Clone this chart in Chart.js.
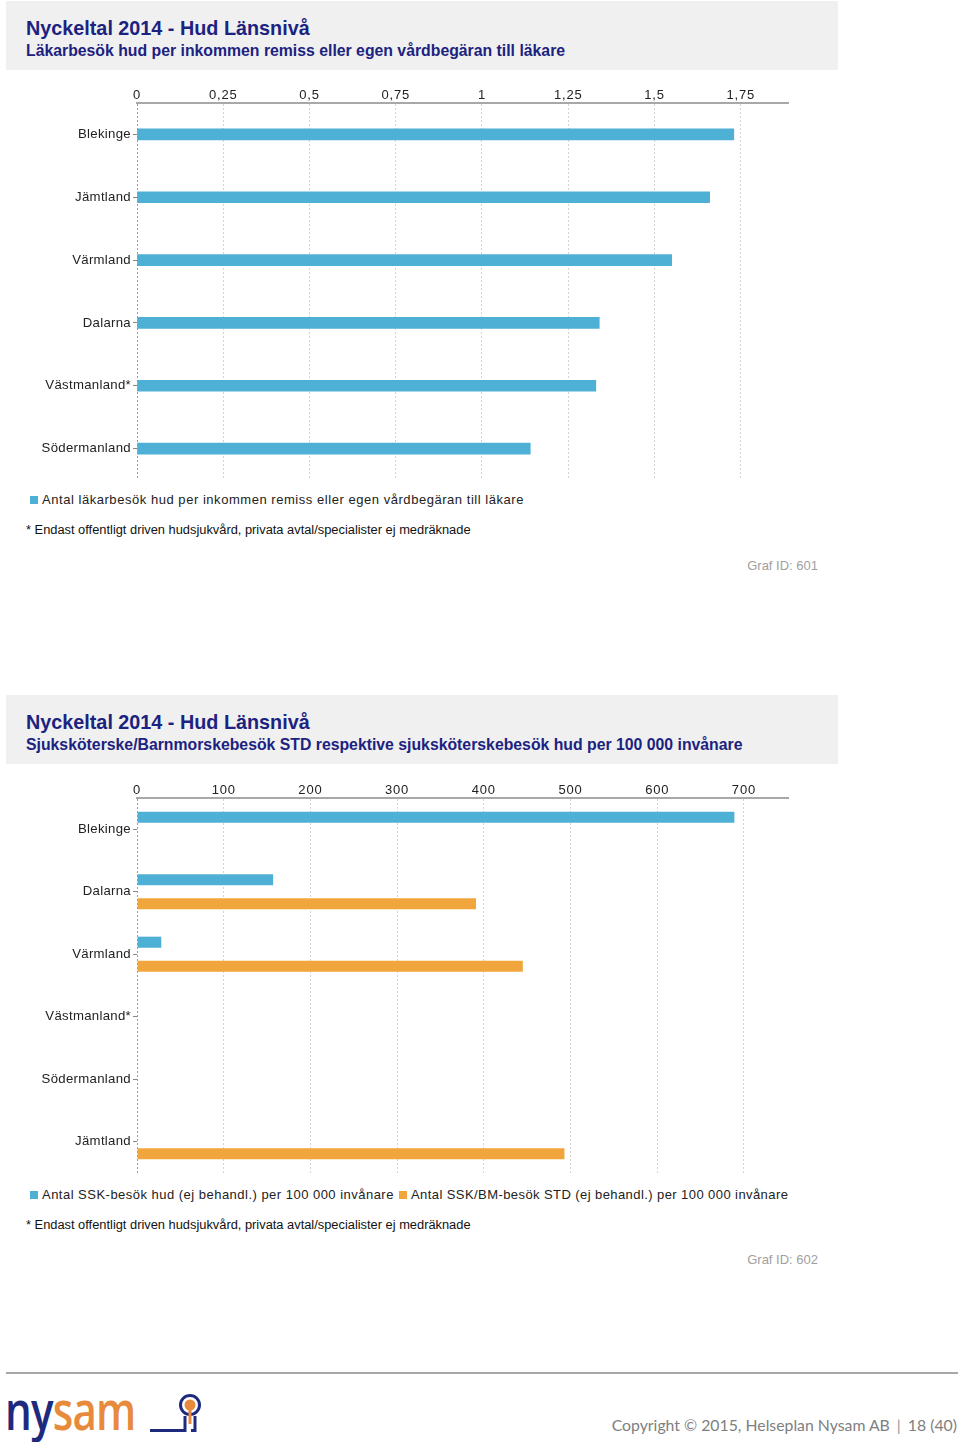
<!DOCTYPE html>
<html><head><meta charset="utf-8">
<script src="https://cdn.jsdelivr.net/npm/chart.js@4.4.1/dist/chart.umd.min.js"></script>
<style>
html,body{margin:0;padding:0;background:#fff;}
body{width:960px;height:1442px;position:relative;overflow:hidden;font-family:"Liberation Sans",Arial,sans-serif;}
.hdr{position:absolute;left:6px;width:832px;height:69px;background:#f0f0f0;}
.t1{position:absolute;left:26px;font-weight:bold;font-size:19.8px;line-height:22px;color:#1c2280;white-space:nowrap;}
.t2{position:absolute;left:26px;font-weight:bold;font-size:15.8px;line-height:18px;color:#1c2280;white-space:nowrap;}
canvas{position:absolute;left:0;}
.sw{position:absolute;width:8px;height:8px;}
.lt{position:absolute;font-size:13px;line-height:16px;letter-spacing:0.54px;color:#222;white-space:nowrap;}
.fn{position:absolute;left:26px;font-size:12.85px;line-height:16px;color:#111;white-space:nowrap;}
.gid{position:absolute;right:142px;font-size:13px;line-height:16px;color:#a0a0a0;white-space:nowrap;}
</style></head>
<body>
<div class="hdr" style="top:1px"></div>
<div class="t1" style="top:17px">Nyckeltal 2014 - Hud Länsnivå</div>
<div class="t2" style="top:42px">Läkarbesök hud per inkommen remiss eller egen vårdbegäran till läkare</div>
<canvas id="c1" width="789" height="408" style="top:72px"></canvas>
<div class="sw" style="left:30px;top:496px;background:#4eb0d5"></div>
<div class="lt" style="left:42px;top:492px">Antal läkarbesök hud per inkommen remiss eller egen vårdbegäran till läkare</div>
<div class="fn" style="top:522px">* Endast offentligt driven hudsjukvård, privata avtal/specialister ej medräknade</div>
<div class="gid" style="top:558px">Graf ID: 601</div>

<div class="hdr" style="top:695px"></div>
<div class="t1" style="top:711px">Nyckeltal 2014 - Hud Länsnivå</div>
<div class="t2" style="top:736px">Sjuksköterske/Barnmorskebesök STD respektive sjuksköterskebesök hud per 100 000 invånare</div>
<canvas id="c2" width="789" height="406" style="top:767px"></canvas>
<div class="sw" style="left:30px;top:1191px;background:#4eb0d5"></div>
<div class="lt" style="left:42px;top:1187px;letter-spacing:0.48px">Antal SSK-besök hud (ej behandl.) per 100 000 invånare</div>
<div class="sw" style="left:399px;top:1191px;background:#f0a63c"></div>
<div class="lt" style="left:411px;top:1187px;letter-spacing:0.42px">Antal SSK/BM-besök STD (ej behandl.) per 100 000 invånare</div>
<div class="fn" style="top:1217px">* Endast offentligt driven hudsjukvård, privata avtal/specialister ej medräknade</div>
<div class="gid" style="top:1252px">Graf ID: 602</div>

<div style="position:absolute;left:6px;top:1372px;width:952px;height:2px;background:#a8a8a8"></div>
<div style="position:absolute;left:5px;top:1382px;font-family:'Open Sans';font-weight:600;font-size:54px;line-height:54px;transform:scaleX(0.78);transform-origin:0 0;letter-spacing:-1px;white-space:nowrap"><span style="color:#1e2a7e">ny</span><span style="color:#e88a3c">sam</span></div>
<svg style="position:absolute;left:145px;top:1390px" width="70" height="50">
  <path d="M5 40.5 H40 V26" fill="none" stroke="#1e2a7e" stroke-width="3"/>
  <path d="M50 26 V40.5 H46" fill="none" stroke="#1e2a7e" stroke-width="3"/>
  <circle cx="45" cy="15" r="9.5" fill="none" stroke="#1e2a7e" stroke-width="3"/>
  <circle cx="45" cy="15" r="5.5" fill="#e88a3c"/>
  <rect x="43.5" y="16" width="3" height="18" fill="#e88a3c"/>
</svg>
<div style="position:absolute;right:3px;top:1414px;font-family:Lato;font-size:15.8px;line-height:22px;color:#808080;white-space:nowrap">Copyright © 2015, Helseplan Nysam AB <span style="color:#999;padding:0 3px">|</span> 18 (40)</div>

<script>
// ---- data ----
const regions1 = ['Blekinge', 'Jämtland', 'Värmland', 'Dalarna', 'Västmanland*', 'Södermanland'];
const lakarbesok = [1.73, 1.66, 1.55, 1.34, 1.33, 1.14];
const tickValues1 = [0, 0.25, 0.5, 0.75, 1, 1.25, 1.5, 1.75];
const tickLabels1 = ['0', '0,25', '0,5', '0,75', '1', '1,25', '1,5', '1,75'];
const axisMax1 = 1.89;

const regions2 = ['Blekinge', 'Dalarna', 'Värmland', 'Västmanland*', 'Södermanland', 'Jämtland'];
const sskHud = [689, 157, 28, null, null, null];
const sskStd = [null, 391, 445, null, null, 493];
const tickValues2 = [0, 100, 200, 300, 400, 500, 600, 700];
const tickLabels2 = ['0', '100', '200', '300', '400', '500', '600', '700'];
const axisMax2 = 752;

const BLUE = '#4eb0d5', ORANGE = '#f0a63c';
const FONT = '"Liberation Sans", Arial, sans-serif';

const spacingPlugin = {
  id: 'tickSpacing',
  afterLayout(chart) {
    const map = {x: '0.8px', y: '0.3px'};
    Object.keys(map).forEach(id => {
      const s = chart.scales[id];
      if (s && !s._lsPatched) {
        const orig = s.drawLabels.bind(s);
        s.drawLabels = function (area) {
          const c = this.ctx; c.save(); c.letterSpacing = map[id]; orig(area); c.restore();
        };
        s._lsPatched = true;
      }
    });
  }
};

function makeOptions(max, tVals, tLabs, topH) {
  return {
    indexAxis: 'y', responsive: false, animation: false, devicePixelRatio: 1,
    layout: {padding: {left: 0, right: 0, top: 0, bottom: 0}},
    plugins: {legend: {display: false}, tooltip: {enabled: false}},
    scales: {
      x: {
        position: 'top', min: 0, max: max,
        afterBuildTicks: s => { s.ticks = tVals.map(v => ({value: v})); },
        afterFit: s => { s.height = topH; },
        ticks: {callback: (v, i) => tLabs[i], font: {family: FONT, size: 13}, color: '#222', padding: 0, maxRotation: 0, autoSkip: false},
        grid: {drawTicks: false, lineWidth: 1, color: c => (c.tick && c.tick.value === 0) ? '#9c9c9c' : '#d4d4d4'},
        border: {display: true, color: '#a8a8a8', width: 2, dash: [2, 2]}
      },
      y: {
        afterFit: s => { s.width = 137; s.paddingTop = 0; s.paddingBottom = 0; },
        ticks: {font: {family: FONT, size: 13.2}, color: '#222', padding: 2},
        grid: {drawOnChartArea: false, drawTicks: true, tickLength: 4, offset: false, color: '#888'},
        border: {display: false}
      }
    }
  };
}

new Chart(document.getElementById('c1'), {
  type: 'bar',
  data: {labels: regions1, datasets: [{label: 'Antal läkarbesök hud per inkommen remiss eller egen vårdbegäran till läkare', data: lakarbesok, backgroundColor: BLUE, barThickness: 11}]},
  options: makeOptions(axisMax1, tickValues1, tickLabels1, 31),
  plugins: [spacingPlugin]
});

new Chart(document.getElementById('c2'), {
  type: 'bar',
  data: {labels: regions2, datasets: [
    {label: 'Antal SSK-besök hud (ej behandl.) per 100 000 invånare', data: sskHud, backgroundColor: BLUE, categoryPercentage: 0.77, barPercentage: 0.46},
    {label: 'Antal SSK/BM-besök STD (ej behandl.) per 100 000 invånare', data: sskStd, backgroundColor: ORANGE, categoryPercentage: 0.77, barPercentage: 0.46}
  ]},
  options: makeOptions(axisMax2, tickValues2, tickLabels2, 31),
  plugins: [spacingPlugin]
});
</script>
</body></html>
